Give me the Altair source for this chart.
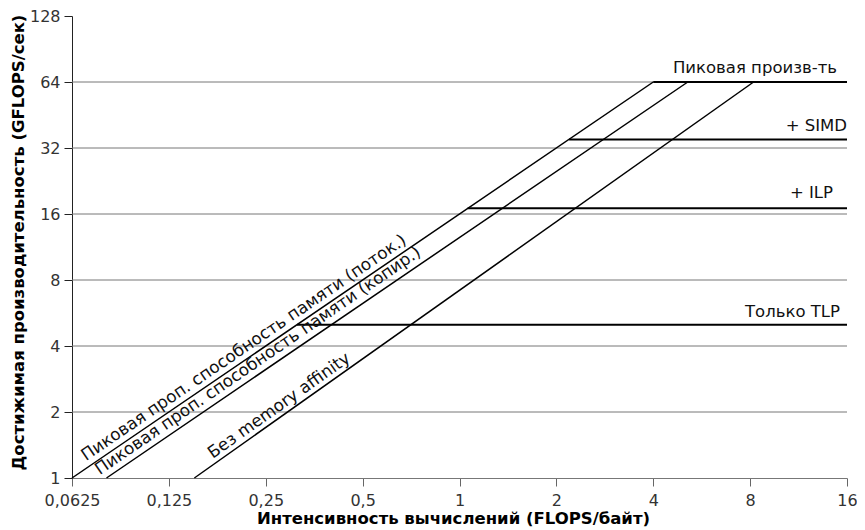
import altair as alt
import pandas as pd

# ---- data ----
x_ticks = [0.0625, 0.125, 0.25, 0.5, 1, 2, 4, 8, 16]
y_ticks = [1, 2, 4, 8, 16, 32, 64, 128]
grid_vals = [2, 4, 8, 16, 32, 64]

ceil_names = ["Пиковая произв-ть", "+ SIMD", "+ ILP", "Только TLP"]
ceil_vals = [64, 35, 17, 5]
ceil_start = [4, 2.19, 1.06, 0.3125]
ceil_end = [16, 16, 16, 16]

diag_names = [
    "Пиковая проп. способность памяти (поток.)",
    "Пиковая проп. способность памяти (копир.)",
    "Без memory affinity",
]
diag_x0 = [0.0625, 0.08, 0.15]
diag_y0 = [1, 1, 1]
diag_x1 = [4, 5.12, 8.2]
diag_y1 = [64, 64, 64]

FONT = "DejaVu Sans"

xs = alt.Scale(type="log", base=2, domain=[0.0625, 16], nice=False)
ys = alt.Scale(type="log", base=2, domain=[1, 128], nice=False)

grid_df = pd.DataFrame({"y": grid_vals})
ceil_df = pd.DataFrame({"name": ceil_names, "y": ceil_vals, "x": ceil_start, "x2": ceil_end})
diag_df = pd.DataFrame({"name": diag_names, "x": diag_x0, "y": diag_y0, "x2": diag_x1, "y2": diag_y1})

x_axis = alt.Axis(
    values=x_ticks, labelExpr="replace(toString(datum.value), '.', ',')",
    title="Интенсивность вычислений (FLOPS/байт)", grid=False,
    tickSize=8, tickColor="#666", domainColor="#777", labelPadding=6,
    labelFont=FONT, labelFontSize=16, labelColor="#333", labelFlush=False,
    titleFont=FONT, titleFontSize=16.5, titleFontWeight="bold", titleColor="#000",
    titlePadding=2, titleX=381,
)
y_axis = alt.Axis(
    values=y_ticks, format="d", title="Достижимая производительность (GFLOPS/сек)", grid=False,
    tickSize=8, tickColor="#222", domainColor="#222", labelPadding=4,
    labelFont=FONT, labelFontSize=16, labelColor="#333",
    titleFont=FONT, titleFontSize=16.5, titleFontWeight="bold", titleColor="#000",
    titlePadding=3, titleY=226,
)

grid = alt.Chart(grid_df).mark_rule(color="#777", strokeWidth=1).encode(
    y=alt.Y("y:Q", scale=ys, axis=y_axis)
)

axes = alt.Chart(diag_df).mark_point(opacity=0).encode(
    x=alt.X("x:Q", scale=xs, axis=x_axis),
    y=alt.Y("y:Q", scale=ys, axis=y_axis),
)

ceilings = alt.Chart(ceil_df).mark_rule(color="#000", strokeWidth=2).encode(
    x=alt.X("x:Q", scale=xs), x2="x2:Q", y=alt.Y("y:Q", scale=ys)
)

diags = alt.Chart(diag_df).mark_rule(color="#000", strokeWidth=1.5).encode(
    x=alt.X("x:Q", scale=xs), x2="x2:Q", y=alt.Y("y:Q", scale=ys), y2="y2:Q"
)

layers = [grid, axes, ceilings, diags]

# ceiling labels: anchored at right end of each ceiling
ceil_offsets = [(-10, -9), (0, -8), (-14, -10), (-7, -8)]
for i, name in enumerate(ceil_names):
    dx, dy = ceil_offsets[i]
    df = pd.DataFrame({"x": [ceil_end[i]], "y": [ceil_vals[i]], "t": [name]})
    layers.append(
        alt.Chart(df).mark_text(
            align="right", baseline="alphabetic", dx=dx, dy=dy,
            font=FONT, fontSize=16.5, color="#111",
        ).encode(x=alt.X("x:Q", scale=xs), y=alt.Y("y:Q", scale=ys), text="t:N")
    )

# diagonal labels: anchored at the lower start of each line, rotated along it
diag_angles = [325.8, 325.6, 324.7]
diag_offsets = [(21, -6), (-4, -6), (26, -5)]
for i, name in enumerate(diag_names):
    dx, dy = diag_offsets[i]
    df = pd.DataFrame({"x": [diag_x0[i]], "y": [diag_y0[i]], "t": [name]})
    layers.append(
        alt.Chart(df).mark_text(
            align="left", baseline="alphabetic", angle=diag_angles[i], dx=dx, dy=dy,
            font=FONT, fontSize=16.8, color="#111", clip=False,
        ).encode(x=alt.X("x:Q", scale=xs), y=alt.Y("y:Q", scale=ys), text="t:N")
    )

chart = alt.layer(*layers).properties(
    width=775, height=462,
    autosize=alt.AutoSizeParams(type="none"),
    padding={"left": 64, "top": 8, "right": 10, "bottom": 52},
    background="white",
).configure_view(stroke=None)

chart.save("out.html", embed_options={"renderer": "svg", "actions": False})
